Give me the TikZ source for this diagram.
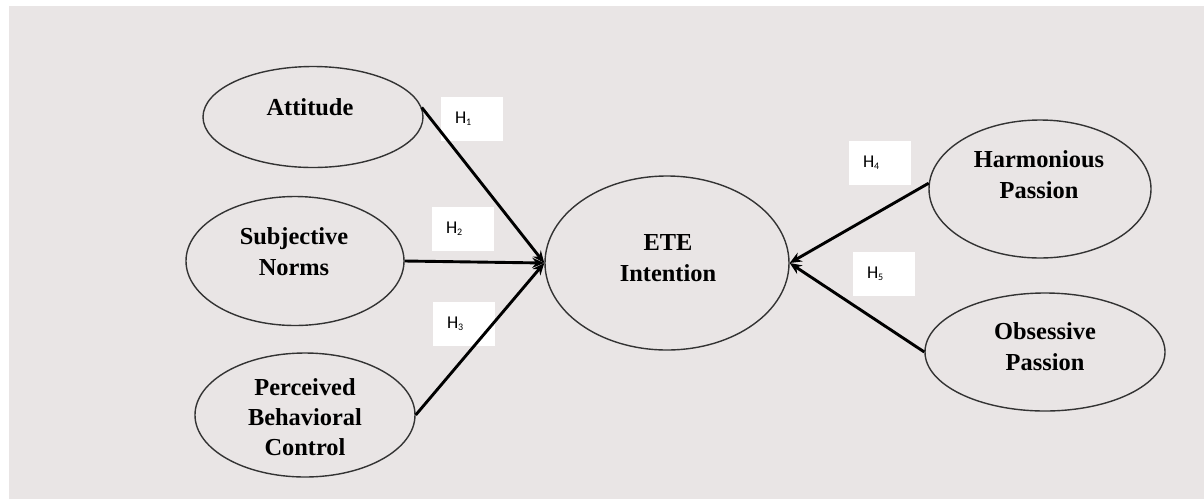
\documentclass[tikz,border=0pt]{standalone}
\usepackage{fontspec}
\setmainfont{Liberation Serif}
\newfontfamily\labfont{Carlito}
\usetikzlibrary{shapes.geometric,arrows.meta}
\definecolor{bg}{RGB}{233,229,229}
\tikzset{
  construct/.style={ellipse, draw=black!80, line width=1.4pt, inner sep=0pt},
  ctext/.style={align=center, inner sep=0pt, font=\bfseries\fontsize{24.4}{31}\selectfont},
  hyp/.style={fill=white, inner ysep=0pt, inner xsep=14pt, text width=34pt,
    minimum height=44pt, align=left, font=\labfont\fontsize{18}{18}\selectfont},
  path/.style={line width=2.9pt, -{Stealth[length=12pt,width=10pt]}}
}
\newcommand{\hsub}[1]{H{\fontsize{10}{10}\selectfont\raisebox{-2pt}{#1}}}
\begin{document}
\begin{tikzpicture}[x=1pt,y=-1pt]
\useasboundingbox (0,0) rectangle (1204,499);
\fill[white] (0,0) rectangle (1204,499);
\fill[bg] (9,6) rectangle (1204,499);
\node[construct, minimum width=220pt, minimum height=101pt] (att) at (313,117) {};
\node[construct, minimum width=218pt, minimum height=129pt] (sn) at (295,261) {};
\node[construct, minimum width=220pt, minimum height=124pt] (pbc) at (305,415) {};
\node[construct, minimum width=244pt, minimum height=174pt] (ete) at (667,263) {};
\node[construct, minimum width=222pt, minimum height=138pt] (hp) at (1040,189) {};
\node[construct, minimum width=240pt, minimum height=118pt] (op) at (1045,352) {};
\node[ctext] (attt) at (310,107) {Attitude};
\node[ctext] (snt) at (294,252) {Subjective\\Norms};
\node[ctext, font=\bfseries\fontsize{24.4}{30}\selectfont] (pbct) at (305,417) {Perceived\\Behavioral\\Control};
\node[ctext] (etet) at (668,258) {ETE\\Intention};
\node[ctext] (hpt) at (1039,175) {Harmonious\\Passion};
\node[ctext] (opt) at (1045,347) {Obsessive\\Passion};
\node[hyp] (h1) at (472,119) {\hsub{1}};
\node[hyp] (h2) at (463,229) {\hsub{2}};
\node[hyp] (h3) at (464,324) {\hsub{3}};
\node[hyp] (h4) at (880,163) {\hsub{4}};
\node[hyp] (h5) at (884,274) {\hsub{5}};
\draw[path] (att.5) -- (ete.west);
\draw[path] (sn.east) -- (ete.west);
\draw[path] (pbc.east) -- (ete.west);
\draw[path] (hp.177) -- (ete.east);
\draw[path] (op.west) -- (ete.east);
\end{tikzpicture}
\end{document}
